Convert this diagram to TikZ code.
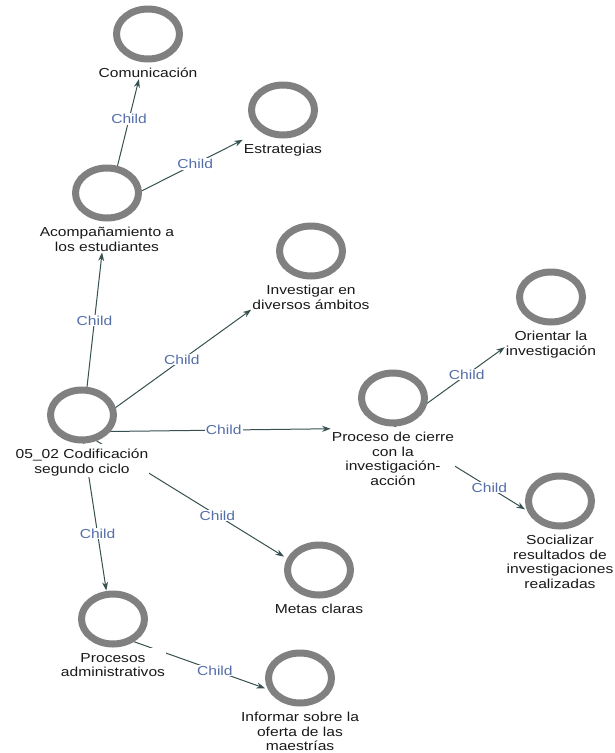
\documentclass[tikz,border=0pt]{standalone}
\usepackage{fontspec}
\setmainfont[FakeStretch=1.2]{Liberation Sans}
\usetikzlibrary{shapes.geometric,arrows.meta,calc,intersections}
\definecolor{ringgray}{RGB}{128,128,128}
\definecolor{edgecol}{RGB}{55,80,80}
\definecolor{childblue}{RGB}{84,110,170}
\definecolor{txtcol}{RGB}{25,25,25}
\pgfdeclarelayer{bg}
\pgfdeclarelayer{paper}
\pgfsetlayers{paper,bg,main}
\newcommand{\concept}[4]{%
  \node[ring] (#1-c) at (#2,#3) {};
  \node[lbl] (#1-l) at (#2,#3+33) {#4};
  \fill[white] (#1-l.west |- #1-c.south) rectangle (#1-l.north east);
  \coordinate (#1) at ($(#1-c.north)!0.5!(#1-l.south)$);
}
\newcommand{\linkto}[3]{%
  \path[name path=lnp] (#1) -- ($(#1)!1.5!(#2)$);
  \path[name path=bxp] (#2-c.west |- #2-c.north) rectangle (#2-c.east |- #2-c.south)
                       (#2-l.west |- #2-c.south) rectangle (#2-l.south east);
  \draw[edge, name intersections={of=lnp and bxp, sort by=lnp}]
    (#1) -- (intersection-1) node[childlbl, pos=#3] {Child};
}
\begin{document}
\begin{tikzpicture}[x=1pt,y=-1pt,
  ring/.style={ellipse, draw=ringgray, line width=7pt, fill=white,
    minimum width=63pt, minimum height=50pt, inner sep=0pt},
  lbl/.style={anchor=north, align=center, inner sep=1pt, fill=white, text=txtcol,
    font=\fontsize{13}{14.5}\selectfont},
  edge/.style={draw=edgecol, line width=1pt, -{Stealth[length=8.5pt,width=6pt]}},
  childlbl/.style={text=childblue, fill=white, inner sep=1pt,
    font=\fontsize{13}{14.5}\selectfont}]
\begin{pgfonlayer}{paper}
\fill[white] (0,0) rectangle (615,753);
\end{pgfonlayer}
\useasboundingbox (0,0) rectangle (615,753);

\concept{Com}{148}{34}{Comunicación}
\concept{Est}{283}{110}{Estrategias}
\concept{Aco}{107}{193}{Acompañamiento a\\los estudiantes}
\concept{Inv}{311}{251}{Investigar en\\diversos ámbitos}
\concept{Cod}{82}{415}{05\_02 Codificación\\segundo ciclo}
\concept{Pro}{393}{398}{Proceso de cierre\\con la\\investigación-\\acción}
\concept{Ori}{551}{297}{Orientar la\\investigación}
\concept{Soc}{560}{501}{Socializar\\resultados de\\investigaciones\\realizadas}
\concept{Met}{319}{570}{Metas claras}
\concept{Pad}{113}{619}{Procesos\\administrativos}
\concept{Inf}{300}{678}{Informar sobre la\\oferta de las\\maestrías}

\begin{pgfonlayer}{bg}
\linkto{Cod}{Aco}{0.62}
\linkto{Aco}{Com}{0.69}
\linkto{Aco}{Est}{0.65}
\linkto{Cod}{Inv}{0.59}
\linkto{Cod}{Pro}{0.57}
\linkto{Pro}{Ori}{0.66}
\linkto{Pro}{Soc}{0.73}
\linkto{Cod}{Met}{0.67}
\linkto{Cod}{Pad}{0.64}
\linkto{Pad}{Inf}{0.67}
\end{pgfonlayer}
\end{tikzpicture}
\end{document}
